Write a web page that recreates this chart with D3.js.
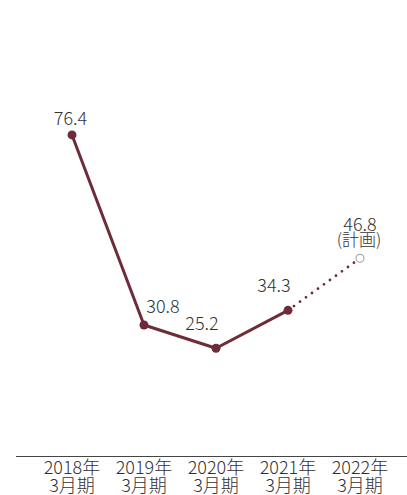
<!DOCTYPE html>
<html><head><meta charset="utf-8">
<script src="https://cdn.jsdelivr.net/npm/d3@7"></script>
<style>html,body{margin:0;padding:0;background:#fff;}svg{display:block;}text{font-family:"Noto Sans CJK JP","Noto Sans",sans-serif;font-weight:300;fill:#333;}</style>
</head><body>
<svg id="c" width="407" height="495"></svg>
<script>
const years = ["2018年","2019年","2020年","2021年","2022年"];
const periods = ["3月期","3月期","3月期","3月期","3月期"];
const values = [76.4, 30.8, 25.2, 34.3, 46.8];
const planned = [false,false,false,false,true];
const planNote = "(計画)";

const svg = d3.select("#c");
const color = "#6e2c3a";
const x = d3.scalePoint().domain(d3.range(values.length)).range([72, 360]);
const y = d3.scaleLinear().domain([0, 100]).range([453.3, 36.6]);

svg.append("line").attr("x1",16).attr("x2",407).attr("y1",456.5).attr("y2",456.5)
  .attr("stroke","#444").attr("stroke-width",1);

const actualIdx = d3.range(values.length).filter(i=>!planned[i]);
const line = d3.line().x(i=>x(i)).y(i=>y(values[i]));
svg.append("path").attr("d", line(actualIdx)).attr("fill","none")
  .attr("stroke",color).attr("stroke-width",3).attr("stroke-linejoin","round");

const last = actualIdx[actualIdx.length-1];
const planIdx = d3.range(values.length).filter(i=>planned[i]);
svg.append("path").attr("d", line([last, ...planIdx])).attr("fill","none")
  .attr("stroke",color).attr("stroke-width",2.8).attr("stroke-linecap","round")
  .attr("stroke-dasharray","0 7.4").attr("stroke-dashoffset",-7.4);

svg.selectAll("circle.a").data(actualIdx).join("circle")
  .attr("cx",i=>x(i)).attr("cy",i=>y(values[i])).attr("r",4.5).attr("fill",color);
svg.selectAll("circle.p").data(planIdx).join("circle")
  .attr("cx",i=>x(i)).attr("cy",i=>y(values[i])).attr("r",4).attr("fill","#fff")
  .attr("stroke","#aaa").attr("stroke-width",1.2);

// value label offsets relative to point (dx of label centre, dy of baseline)
const off = [[-1.5,-9.5],[19,-12],[-14,-18.5],[-14,-18.5],[0,-27.5]];
svg.selectAll("text.v").data(d3.range(values.length)).join("text")
  .attr("x",i=>x(i)+off[i][0]).attr("y",i=>y(values[i])+off[i][1])
  .attr("text-anchor","middle").attr("font-size",18)
  .text(i=>values[i].toFixed(1));
planIdx.forEach(i=>{
  svg.append("text").attr("x",x(i)-1).attr("y",y(values[i])-12.5)
    .attr("text-anchor","middle").attr("font-size",17).text(planNote);
});

svg.selectAll("text.y").data(d3.range(values.length)).join("text")
  .attr("x",i=>x(i)).attr("y",473.5).attr("text-anchor","middle").attr("font-size",18)
  .text(i=>years[i]);
svg.selectAll("text.m").data(d3.range(values.length)).join("text")
  .attr("x",i=>x(i)).attr("y",491.5).attr("text-anchor","middle").attr("font-size",18)
  .text(i=>periods[i]);
</script>
</body></html>
